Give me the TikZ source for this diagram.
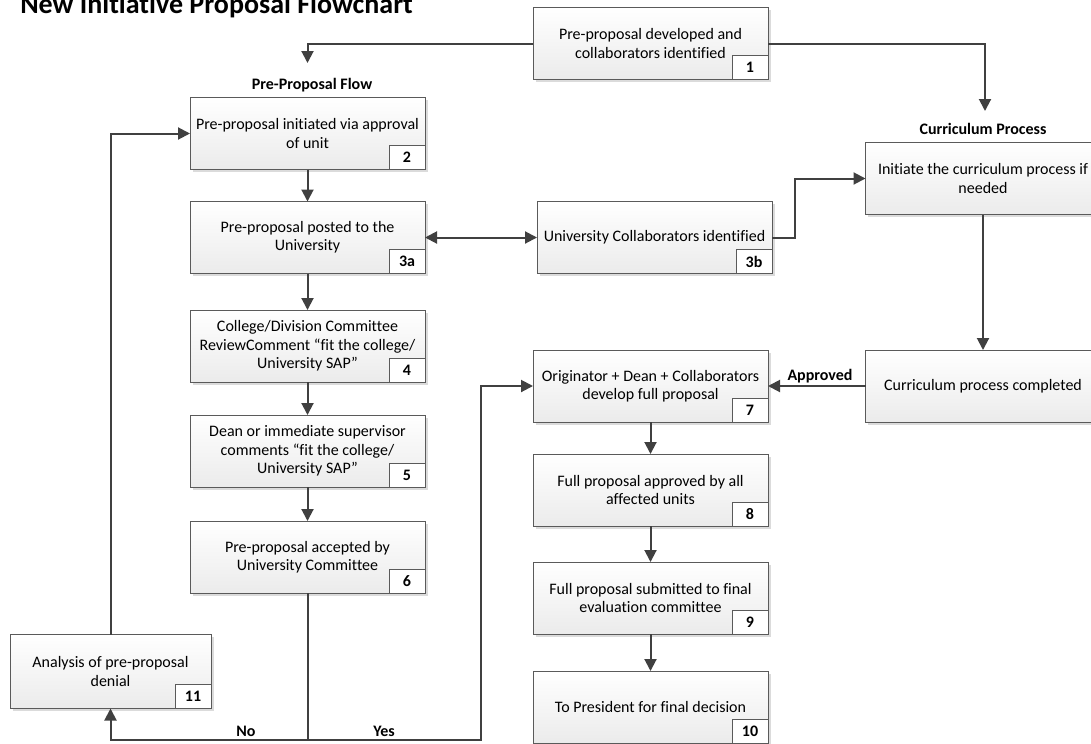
\documentclass[tikz,border=0pt]{standalone}
\usepackage{fontspec}
\setmainfont{Carlito}[Ligatures={TeX,NoCommon}]
\usetikzlibrary{arrows.meta,shadows}
\definecolor{linegray}{HTML}{404040}
\definecolor{edgegray}{HTML}{5A5A5A}
\definecolor{boxlow}{HTML}{EBEBEB}
\begin{document}
\begin{tikzpicture}[x=0.75pt,y=-0.75pt,
  pb/.style={draw=edgegray,line width=0.75pt,top color=white,bottom color=boxlow,minimum width=176.25pt,minimum height=54pt,align=center,inner sep=2pt,outer sep=0pt,font=\fontsize{12}{13.8}\selectfont,drop shadow={shadow xshift=2pt,shadow yshift=-2pt,fill=black!20,opacity=0.7}},
  nb/.style={draw=edgegray,line width=0.75pt,fill=white,minimum width=27pt,minimum height=18pt,inner sep=0pt,outer sep=0pt,anchor=south east,font=\fontsize{12}{14}\selectfont\bfseries},
  lbl/.style={font=\fontsize{12}{14}\selectfont\bfseries,inner sep=0pt},
  arr/.style={draw=linegray,line width=1.5pt,-{Triangle[length=9pt,width=9pt]}},
  ln/.style={draw=linegray,line width=1.5pt}]
  \useasboundingbox (0,0) rectangle (1091,743);
  \node[anchor=base west,inner sep=0pt,font=\fontsize{21}{24}\selectfont\bfseries] (title) at (20,13) {New Initiative Proposal Flowchart};
  \node[pb] (b1) at (650.5,43.5) {Pre-proposal developed and\\collaborators identified};
  \node[nb] (n1) at (b1.south east) {1};
  \node[pb] (b2) at (307.5,133.5) {Pre-proposal initiated via approval\\of unit};
  \node[nb] (n2) at (b2.south east) {2};
  \node[pb] (b3a) at (307.5,237.5) {Pre-proposal posted to the\\University};
  \node[nb] (n3a) at (b3a.south east) {3a};
  \node[pb] (b4) at (307.5,346) {College/Division Committee\\ReviewComment ``fit the college/\\University SAP''};
  \node[nb] (n4) at (b4.south east) {4};
  \node[pb] (b5) at (307.5,451) {Dean or immediate supervisor\\comments ``fit the college/\\University SAP''};
  \node[nb] (n5) at (b5.south east) {5};
  \node[pb] (b6) at (307.5,557) {Pre-proposal accepted by\\University Committee};
  \node[nb] (n6) at (b6.south east) {6};
  \node[pb,minimum width=150.75pt,minimum height=55.5pt] (b11) at (110.5,671.5) {Analysis of pre-proposal\\denial};
  \node[nb] (n11) at (b11.south east) {11};
  \node[pb] (b3b) at (654.5,237.5) {University Collaborators identified};
  \node[nb] (n3b) at (b3b.south east) {3b};
  \node[pb] (bci) at (983,178.5) {Initiate the curriculum process if\\needed};
  \node[pb] (bcc) at (983,386) {Curriculum process completed};
  \node[pb] (b7) at (650.5,386) {Originator + Dean + Collaborators\\develop full proposal};
  \node[nb] (n7) at (b7.south east) {7};
  \node[pb] (b8) at (650.5,490) {Full proposal approved by all\\affected units};
  \node[nb] (n8) at (b8.south east) {8};
  \node[pb] (b9) at (650.5,598) {Full proposal submitted to final\\evaluation committee};
  \node[nb] (n9) at (b9.south east) {9};
  \node[pb] (b10) at (650.5,707) {To President for final decision};
  \node[nb] (n10) at (b10.south east) {10};
  \node[lbl] (lpf) at (312,85) {Pre-Proposal Flow};
  \node[lbl] (lcp) at (983,129) {Curriculum Process};
  \node[lbl] (lap) at (820,376) {Approved};
  \node[lbl] (lno) at (246,731) {No};
  \node[lbl] (lyes) at (384,731) {Yes};
  \coordinate (pf) at (307.5,63);
  \coordinate (cp) at (985,111);
  \coordinate (j) at (307.5,740);
  \coordinate (jy) at (481,740);
  \draw[arr] (b1.west) -| (pf);
  \draw[arr] (b1.east) -| (cp);
  \draw[arr] (b2) -- (b3a);
  \draw[arr] (b3a) -- (b4);
  \draw[arr] (b4) -- (b5);
  \draw[arr] (b5) -- (b6);
  \draw[arr,{Triangle[length=9pt,width=9pt]}-{Triangle[length=9pt,width=9pt]}] (b3a) -- (b3b);
  \draw[arr] (b3b.east) -- ++(23,0) |- (bci.west);
  \draw[arr] (bci) -- (bcc);
  \draw[arr] (bcc) -- (b7);
  \draw[arr] (b7) -- (b8);
  \draw[arr] (b8) -- (b9);
  \draw[arr] (b9) -- (b10);
  \draw[ln] (b6.south) -- (j);
  \draw[arr] (j) -| (b11.south);
  \draw[arr] (j) -- (jy) |- (b7.west);
  \draw[arr] (b11.north) |- (b2.west);
\end{tikzpicture}
\end{document}
